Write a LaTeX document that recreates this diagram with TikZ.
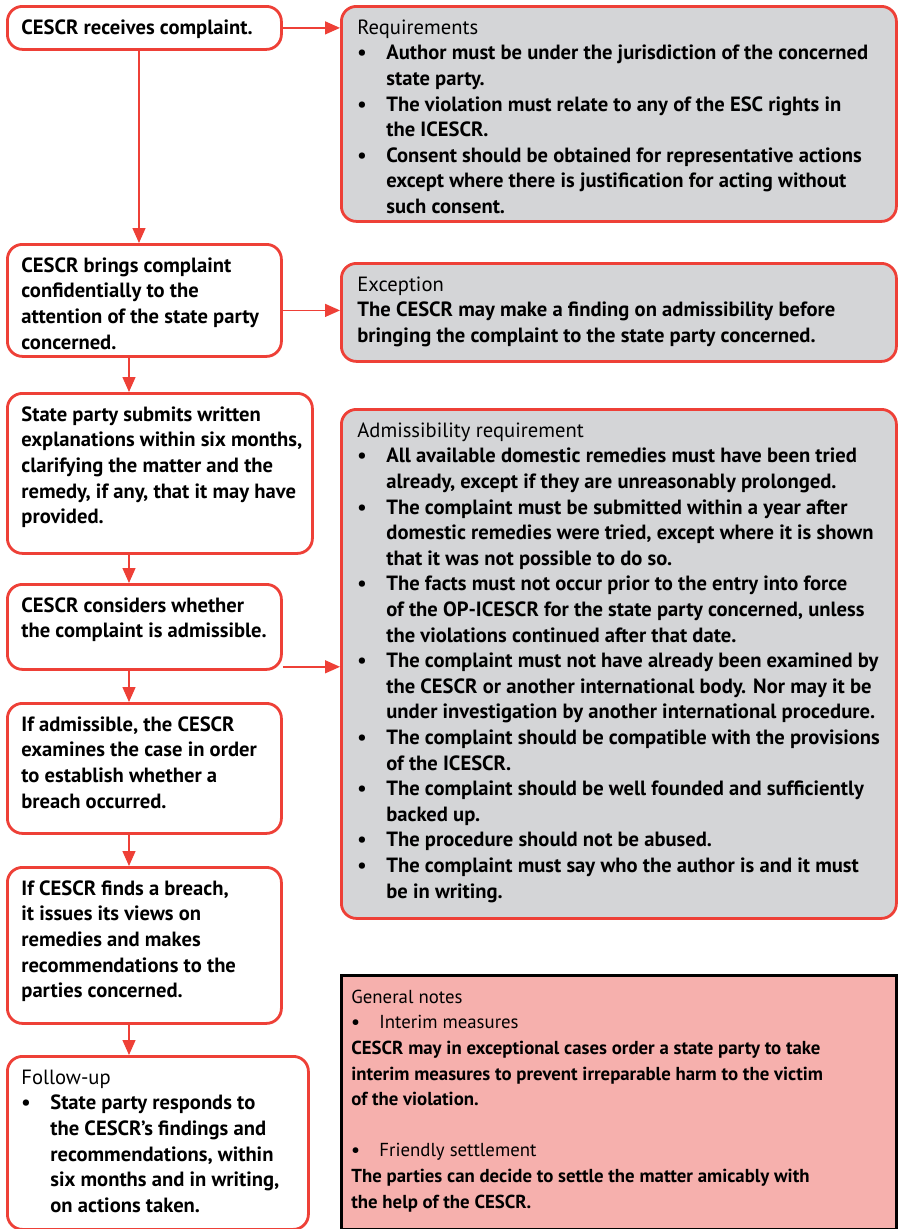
\documentclass[tikz,border=0pt]{standalone}
\usepackage{fontspec}
\setmainfont{PT Sans}
\usetikzlibrary{arrows.meta}
\definecolor{cred}{HTML}{EE4037}
\definecolor{cgray}{HTML}{D4D5D7}
\definecolor{cpink}{HTML}{F6B0AD}
\newcommand{\fs}{20.6}
\newcommand{\bs}{25.6}
% [font size] width, height, leftskip, text
\newcommand{\bt}[5][\fs]{\parbox[b][#3pt][t]{#2pt}{\fontsize{#1}{\bs}\selectfont\bfseries\raggedright\let\\\newline
  \leftskip=#4pt\rightskip=-14pt plus 1fil\parindent=0pt\vspace*{10pt}\strut #5\par}}
\newcommand{\bitem}[2][29pt]{\par\hangindent=#1\hangafter=1\noindent\makebox[#1][l]{•}#2\par}
\newcommand{\hd}[1]{{\mdseries #1}}
\tikzset{
  lbox/.style={draw=cred, line width=2.8pt, rounded corners=15pt, fill=white, inner sep=0pt, anchor=north west},
  rbox/.style={draw=cred, line width=2.8pt, rounded corners=15pt, fill=cgray, inner sep=0pt, anchor=north west},
  nbox/.style={draw=black, line width=2.8pt, fill=cpink, inner sep=0pt, anchor=north west},
  arr/.style={draw=cred, line width=1.4pt, -{Triangle[width=13pt,length=15pt]}},
}
\begin{document}
\begin{tikzpicture}[x=1pt,y=-1pt]
\fill[white] (0,0) rectangle (897,1229);
\useasboundingbox (0,0) rectangle (897,1229);

% left column
\node[lbox] (L1) at (6,5) {\bt{274}{43}{14}{CESCR receives complaint.}};
\node[lbox] (L2) at (6,243) {\bt{274}{112}{14}{CESCR brings complaint\\confidentially to the\\attention of the state party\\concerned.}};
\node[lbox] (L3) at (6,392) {\bt{305}{160}{14}{State party submits written\\explanations within six months,\\clarifying the matter and the\\remedy, if any, that it may have\\provided.}};
\node[lbox] (L4) at (6,583) {\bt{274}{85}{14}{CESCR considers whether\\the complaint is admissible.}};
\node[lbox] (L5) at (6,702) {\bt{274}{130}{14}{If admissible, the CESCR\\examines the case in order\\to establish whether a\\breach occurred.}};
\node[lbox] (L6) at (6,866) {\bt{274}{156}{14}{If CESCR finds a breach,\\it issues its views on\\remedies and makes\\recommendations to the\\parties concerned.}};
\node[lbox] (L7) at (6,1055) {\bt{301}{173}{14}{\hd{Follow-up}
  \bitem{State party responds to\\the CESCR’s findings and\\recommendations, within\\six months and in writing,\\on actions taken.}}};

% right column
\node[rbox] (R1) at (340,5) {\bt{555}{215}{16}{\hd{Requirements}
  \bitem{Author must be under the jurisdiction of the concerned\\state party.}
  \bitem{The violation must relate to any of the ESC rights in\\the ICESCR.}
  \bitem{Consent should be obtained for representative actions\\except where there is justification for acting without\\such consent.}}};
\node[rbox] (R2) at (340,262) {\bt{555}{98}{16}{\hd{Exception}\\The CESCR may make a finding on admissibility before\\bringing the complaint to the state party concerned.}};
\node[rbox] (R3) at (340,408) {\bt{555}{509}{16}{\hd{Admissibility requirement}
  \bitem{All available domestic remedies must have been tried\\already, except if they are unreasonably prolonged.}
  \bitem{The complaint must be submitted within a year after\\domestic remedies were tried, except where it is shown\\that it was not possible to do so.}
  \bitem{The facts must not occur prior to the entry into force\\of the OP-ICESCR for the state party concerned, unless\\the violations continued after that date.}
  \bitem{The complaint must not have already been examined by\\the CESCR or another international body. Nor may it be\\under investigation by another international procedure.}
  \bitem{The complaint should be compatible with the provisions\\of the ICESCR.}
  \bitem{The complaint should be well founded and sufficiently\\backed up.}
  \bitem{The procedure should not be abused.}
  \bitem{The complaint must say who the author is and it must\\be in writing.}}};
\node[nbox] (R4) at (340,974) {\bt[18.8]{555}{254}{10}{\hd{General notes}
  \bitem[28pt]{\hd{Interim measures}}
  CESCR may in exceptional cases order a state party to take\\interim measures to prevent irreparable harm to the victim\\of the violation.\par
  \vspace{\bs pt}
  \bitem[28pt]{\hd{Friendly settlement}}
  The parties can decide to settle the matter amicably with\\the help of the CESCR.}};

% connectors
\draw[arr] (L1.east) -- (L1.east -| R1.west);
\draw[arr] ([xshift=133pt]L1.south west) -- ([xshift=133pt]L2.north west);
\draw[arr] ([xshift=123pt]L2.south west) -- ([xshift=123pt]L3.north west);
\draw[arr] ([xshift=123pt]L3.south west) -- ([xshift=123pt]L4.north west);
\draw[arr] ([xshift=123pt]L4.south west) -- ([xshift=123pt]L5.north west);
\draw[arr] ([xshift=123pt]L5.south west) -- ([xshift=123pt]L6.north west);
\draw[arr] ([xshift=123pt]L6.south west) -- ([xshift=123pt]L7.north west);
\draw[arr] ([yshift=2pt]R2.west -| L2.east) -- ([yshift=2pt]R2.west);
\draw[arr] ([yshift=4pt]L4.south east) -- ([yshift=4pt]L4.south east -| R3.west);
\end{tikzpicture}
\end{document}
